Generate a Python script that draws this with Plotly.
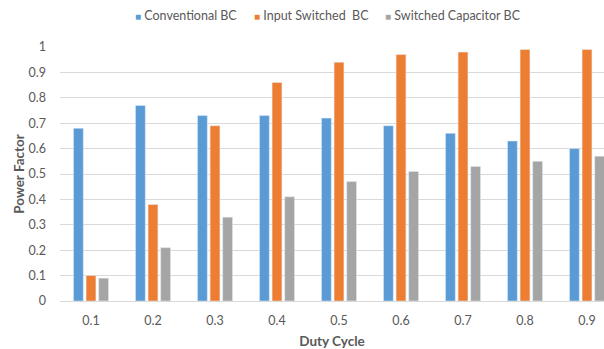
import plotly.graph_objects as go

categories = ["0.1", "0.2", "0.3", "0.4", "0.5", "0.6", "0.7", "0.8", "0.9"]
conventional = [0.68, 0.77, 0.73, 0.73, 0.72, 0.69, 0.66, 0.63, 0.60]
input_switched = [0.10, 0.38, 0.69, 0.86, 0.94, 0.97, 0.98, 0.99, 0.99]
switched_cap = [0.09, 0.21, 0.33, 0.41, 0.47, 0.51, 0.53, 0.55, 0.57]
series_names = ["Conventional BC", "Input Switched  BC", "Switched Capacitor BC"]
series_colors = ["#5B9BD5", "#ED7D31", "#A5A5A5"]
y_ticks = [0, 0.1, 0.2, 0.3, 0.4, 0.5, 0.6, 0.7, 0.8, 0.9, 1]
y_tick_text = ["0", "0.1", "0.2", "0.3", "0.4", "0.5", "0.6", "0.7", "0.8", "0.9", "1"]

font_family = "Lato, Open Sans, sans-serif"
text_color = "#595959"

fig = go.Figure()
for name, vals, col in zip(series_names, [conventional, input_switched, switched_cap], series_colors):
    fig.add_bar(x=categories, y=vals, name=name, marker_color=col)

# legend drawn as text entries (pixel-positioned, left to right)
legend_px = [133, 252, 383]
for name, col, px in zip(series_names, series_colors, legend_px):
    fig.add_annotation(
        xref="paper", yref="paper", x=(px - 60) / 544, y=(301 - 15) / 254,
        xanchor="left", yanchor="middle", showarrow=False,
        text=f"<span style='color:{col};font-size:10px'>■</span> {name.replace('  ', '&nbsp; ')}",
        font=dict(family=font_family, size=12.5, color=text_color),
    )

fig.update_layout(
    width=604, height=349,
    margin=dict(l=60, r=0, t=47, b=48),
    paper_bgcolor="white", plot_bgcolor="white",
    barmode="group", bargap=0.39, bargroupgap=0.22,
    font=dict(family=font_family, size=12, color=text_color),
    showlegend=False,
)
fig.update_xaxes(
    type="category", range=[-0.5, 8.274],
    showgrid=False, showline=False, zeroline=False,
    ticks="outside", ticklen=8, tickcolor="rgba(0,0,0,0)",
    tickfont=dict(size=12.5, color=text_color),
    title=dict(text="<b>Duty Cycle</b>", font=dict(size=13.5, color=text_color), standoff=9),
)
fig.update_yaxes(
    range=[0, 1.0], tickvals=y_ticks, ticktext=y_tick_text,
    showgrid=True, gridcolor="#D9D9D9", gridwidth=1,
    zeroline=True, zerolinecolor="#D9D9D9", zerolinewidth=1,
    showline=False,
    ticklabelstandoff=13,
    tickfont=dict(size=12.5, color=text_color),
    title=dict(text="<b>Power Factor</b>", font=dict(size=13.5, color=text_color), standoff=0),
)
fig.write_html("out.html")
